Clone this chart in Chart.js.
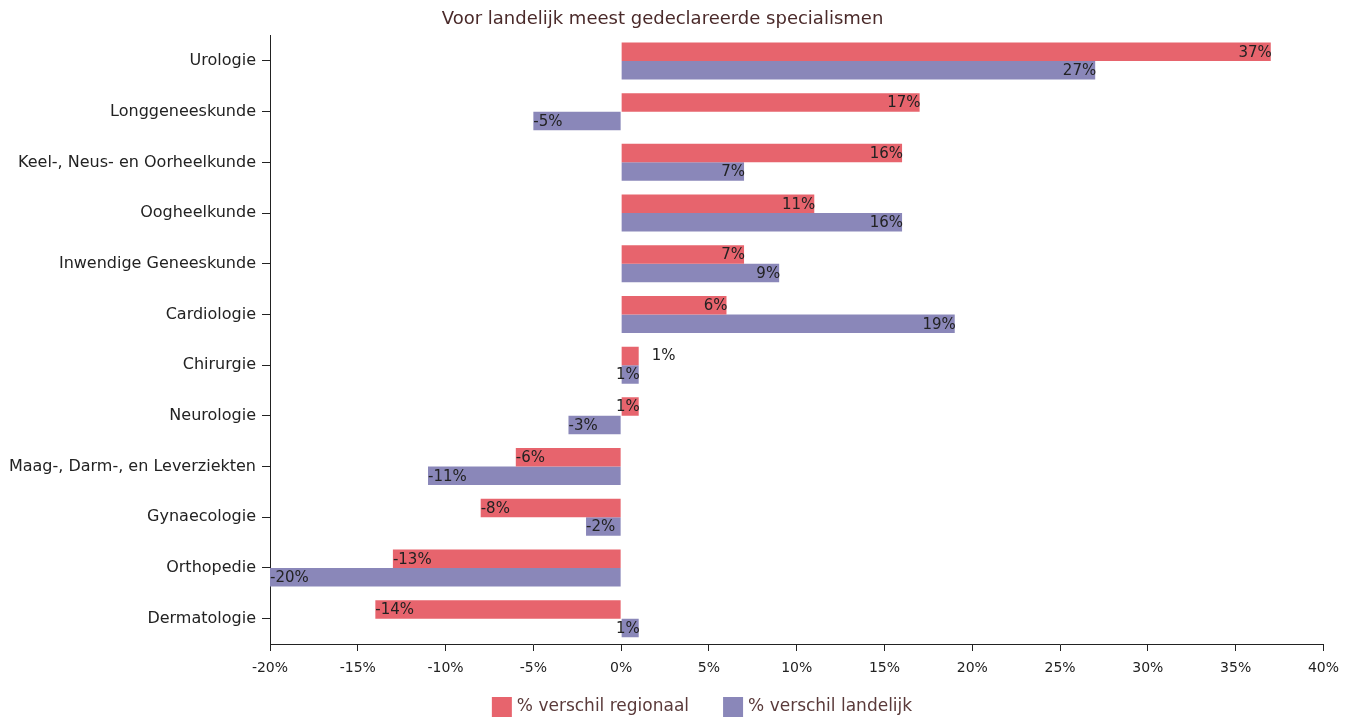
<!DOCTYPE html>
<html>
<head>
<meta charset="utf-8">
<script src="https://cdn.jsdelivr.net/npm/chart.js@4/dist/chart.umd.min.js"></script>
<style>
  html, body { margin: 0; padding: 0; background: #fff; }
  #wrap { width: 1348px; height: 717px; }
</style>
</head>
<body>
<div id="wrap"><canvas id="bar_chart" width="1348" height="717"></canvas></div>
<script>
// specialismen, van boven naar beneden
var categories = [
    "Urologie", "Longgeneeskunde", "Keel-, Neus- en Oorheelkunde", "Oogheelkunde",
    "Inwendige Geneeskunde", "Cardiologie", "Chirurgie", "Neurologie",
    "Maag-, Darm-, en Leverziekten", "Gynaecologie", "Orthopedie", "Dermatologie"
];
var regionaal = [37, 17, 16, 11, 7, 6, 1, 1, -6, -8, -13, -14];
var landelijk = [27, -5, 7, 16, 9, 19, 1, -3, -11, -2, -20, 1];
var xTicks = [-20, -15, -10, -5, 0, 5, 10, 15, 20, 25, 30, 35, 40];

var FONT = "'DejaVu Sans', sans-serif";

// labels op het einde van de balk (binnenkant)
var barLabels = {
    id: 'barLabels',
    afterDatasetsDraw: function (chart) {
        var ctx = chart.ctx;
        ctx.save();
        ctx.font = '15px ' + FONT;
        ctx.fillStyle = '#222';
        ctx.textBaseline = 'middle';
        chart.data.datasets.forEach(function (ds, di) {
            chart.getDatasetMeta(di).data.forEach(function (bar, i) {
                var v = ds.data[i];
                var txt = v + '%';
                var outside = di === 0 && categories[i] === 'Chirurgie';
                if (outside) {
                    ctx.textAlign = 'left';
                    ctx.fillText(txt, bar.x + 13, bar.y);
                } else if (v >= 0) {
                    ctx.textAlign = 'right';
                    ctx.fillText(txt, bar.x + 1, bar.y + 1);
                } else {
                    ctx.textAlign = 'left';
                    ctx.fillText(txt, bar.x, bar.y + 1);
                }
            });
        });
        ctx.restore();
    }
};

// eigen legenda onderaan
var bottomLegend = {
    id: 'bottomLegend',
    afterDraw: function (chart) {
        var ctx = chart.ctx;
        ctx.save();
        ctx.font = '17px ' + FONT;
        ctx.textBaseline = 'middle';
        ctx.textAlign = 'left';
        var items = chart.data.datasets.map(function (ds) {
            return { text: ds.label, color: ds.backgroundColor, w: 25 + ctx.measureText(ds.label).width };
        });
        var gap = 34;
        var total = items.reduce(function (s, it) { return s + it.w; }, 0) + gap * (items.length - 1);
        var x = 702 - total / 2;
        var y = 697;
        items.forEach(function (it) {
            ctx.fillStyle = it.color;
            ctx.fillRect(x, y, 20, 20);
            ctx.fillStyle = '#5a3a3a';
            ctx.fillText(it.text, x + 25, y + 10);
            x += it.w + gap;
        });
        ctx.restore();
    }
};

var ctx = document.getElementById('bar_chart').getContext('2d');
new Chart(ctx, {
    type: 'bar',
    data: {
        labels: categories,
        datasets: [{
            label: '% verschil regionaal',
            data: regionaal,
            backgroundColor: '#e7646d',
            borderWidth: 0,
            inflateAmount: 0,
            categoryPercentage: 0.73,
            barPercentage: 1.0
        }, {
            label: '% verschil landelijk',
            data: landelijk,
            backgroundColor: '#8a87b9',
            borderWidth: 0,
            inflateAmount: 0,
            categoryPercentage: 0.73,
            barPercentage: 1.0
        }]
    },
    options: {
        indexAxis: 'y',
        responsive: false,
        animation: false,
        layout: { padding: { left: 0, right: 23, top: 0, bottom: 0 } },
        plugins: {
            tooltip: { enabled: false },
            legend: { display: false },
            title: {
                display: true,
                text: 'Voor landelijk meest gedeclareerde specialismen',
                color: '#4a2a2a',
                font: { family: FONT, size: 18, weight: 'normal' },
                padding: { top: 9, bottom: 5 }
            }
        },
        scales: {
            y: {
                afterFit: function (scale) { scale.width = 270; },
                border: { display: true, color: '#222' },
                grid: {
                    display: true,
                    offset: false,
                    drawOnChartArea: false,
                    drawTicks: true,
                    tickLength: 8,
                    color: '#222'
                },
                ticks: {
                    color: '#222',
                    padding: 6,
                    font: { family: FONT, size: 16 }
                }
            },
            x: {
                min: -20,
                max: 40,
                afterBuildTicks: function (scale) {
                    scale.ticks = xTicks.map(function (v) { return { value: v }; });
                },
                afterFit: function (scale) { scale.height = 73; },
                border: { display: true, color: '#222' },
                grid: {
                    display: true,
                    drawOnChartArea: false,
                    drawTicks: true,
                    tickLength: 7,
                    color: '#222'
                },
                ticks: {
                    color: '#222',
                    padding: 9,
                    maxRotation: 0,
                    font: { family: FONT, size: 14 },
                    callback: function (v) { return v + '%'; }
                }
            }
        }
    },
    plugins: [barLabels, bottomLegend]
});
</script>
</body>
</html>
